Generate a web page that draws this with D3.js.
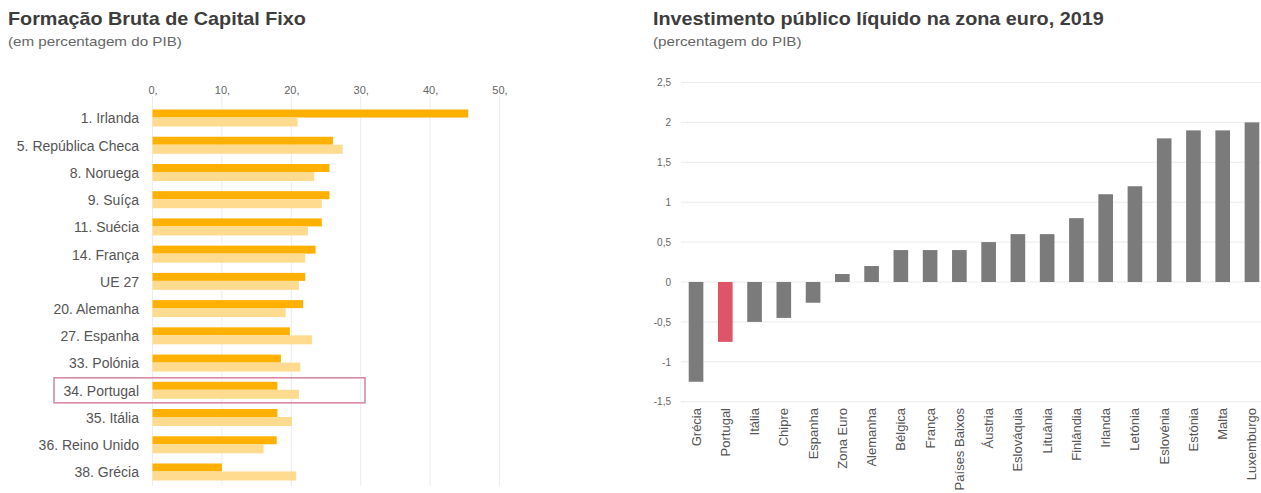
<!DOCTYPE html>
<html>
<head>
<meta charset="utf-8">
<script src="https://cdn.jsdelivr.net/npm/d3@7"></script>
<style>
  html, body { margin: 0; padding: 0; background: #fff; }
  svg { display: block; font-family: "Liberation Sans", Arial, sans-serif; }
</style>
</head>
<body>
<svg id="chart" width="1261" height="493"></svg>
<script>
// Formação Bruta de Capital Fixo (% do PIB)
const fbcfCountries = ["1. Irlanda", "5. República Checa", "8. Noruega", "9. Suíça", "11. Suécia",
  "14. França", "UE 27", "20. Alemanha", "27. Espanha", "33. Polónia", "34. Portugal",
  "35. Itália", "36. Reino Unido", "38. Grécia"];
const fbcfRecent = [45.5, 26.0, 25.5, 25.5, 24.4, 23.5, 22.0, 21.7, 19.8, 18.5, 18.0, 18.0, 17.9, 10.0];
const fbcfEarlier = [20.9, 27.4, 23.3, 24.4, 22.4, 22.0, 21.1, 19.2, 23.0, 21.3, 21.1, 20.1, 16.0, 20.7];
const fbcfTicks = [0, 10, 20, 30, 40, 50];
const fbcfHighlight = "34. Portugal";

// Investimento público líquido na zona euro, 2019 (% do PIB)
const ipCountries = ["Grécia", "Portugal", "Itália", "Chipre", "Espanha", "Zona Euro", "Alemanha",
  "Bélgica", "França", "Países Baixos", "Áustria", "Eslováquia", "Lituânia", "Finlândia",
  "Irlanda", "Letónia", "Eslovénia", "Estónia", "Malta", "Luxemburgo"];
const ipValues = [-1.25, -0.75, -0.5, -0.45, -0.26, 0.1, 0.2, 0.4, 0.4, 0.4, 0.5, 0.6, 0.6, 0.8,
  1.1, 1.2, 1.8, 1.9, 1.9, 2.0];
const ipTicks = [-1.5, -1, -0.5, 0, 0.5, 1, 1.5, 2, 2.5];
const ipHighlight = "Portugal";

const svg = d3.select("#chart");
const fmtComma = d => String(d).replace(".", ",");

// Title + subtitle block, slightly widened type
function heading(g, x, title, subtitle) {
  g.append("text")
    .attr("transform", `translate(${x},24.5) scale(1.1,1)`)
    .attr("font-size", 18).attr("font-weight", "bold").attr("fill", "#3d3d3d")
    .text(title);
  g.append("text")
    .attr("transform", `translate(${x},46) scale(1.17,1)`)
    .attr("font-size", 13).attr("fill", "#666")
    .text(subtitle);
}

// ---------- Left panel: horizontal paired bars ----------
const left = svg.append("g");
heading(left, 8, "Formação Bruta de Capital Fixo", "(em percentagem do PIB)");

const xL = d3.scaleLinear().domain([0, 50]).range([152.5, 499.5]);
const yL = d3.scaleBand().domain(fbcfCountries).range([104.9, 486.1]).padding(0);

// vertical gridlines
left.append("g").selectAll("line").data(fbcfTicks).join("line")
  .attr("x1", d => xL(d)).attr("x2", d => xL(d))
  .attr("y1", 96).attr("y2", 486)
  .attr("stroke", "#ececec").attr("stroke-width", 1);

// top axis labels
const axTop = left.append("g").attr("transform", "translate(0,94)")
  .call(d3.axisTop(xL).tickValues(fbcfTicks).tickSize(0).tickPadding(0).tickFormat(d => d + ","));
axTop.select(".domain").remove();
axTop.selectAll("text").attr("font-size", 11).attr("fill", "#666")
  .attr("font-family", "Liberation Sans, Arial, sans-serif");

// category labels
const axLeft = left.append("g").attr("transform", "translate(139,0)")
  .call(d3.axisLeft(yL).tickSize(0).tickPadding(0));
axLeft.select(".domain").remove();
axLeft.selectAll("text").attr("font-size", 14).attr("fill", "#555")
  .attr("font-family", "Liberation Sans, Arial, sans-serif").attr("dy", "0.35em");

const rows = left.append("g").selectAll("g").data(fbcfCountries).join("g");
rows.append("rect")
  .attr("x", xL(0)).attr("y", d => yL(d) + yL.bandwidth() / 2 - 9)
  .attr("width", (d, i) => xL(fbcfRecent[i]) - xL(0)).attr("height", 8)
  .attr("fill", "#ffb000");
rows.append("rect")
  .attr("x", xL(0)).attr("y", d => yL(d) + yL.bandwidth() / 2 - 1)
  .attr("width", (d, i) => xL(fbcfEarlier[i]) - xL(0)).attr("height", 9)
  .attr("fill", "#ffdb8f");

// highlight box around Portugal
left.append("rect")
  .attr("x", 54).attr("y", yL(fbcfHighlight) + yL.bandwidth() / 2 - 13)
  .attr("width", 311).attr("height", 25)
  .attr("fill", "none").attr("stroke", "#d88aa4").attr("stroke-width", 1.6);

// ---------- Right panel: vertical bars ----------
const right = svg.append("g");
heading(right, 653, "Investimento público líquido na zona euro, 2019", "(percentagem do PIB)");

const yR = d3.scaleLinear().domain([-1.5, 2.5]).range([401.7, 82.5]);
const xR = d3.scaleBand().domain(ipCountries).range([681.4, 1266.6])
  .paddingInner(0.5).paddingOuter(0.25);

right.append("g").selectAll("line").data(ipTicks).join("line")
  .attr("x1", 681).attr("x2", 1261)
  .attr("y1", d => yR(d)).attr("y2", d => yR(d))
  .attr("stroke", "#ebebeb").attr("stroke-width", 1);

const axR = right.append("g").attr("transform", "translate(671,0)")
  .call(d3.axisLeft(yR).tickValues(ipTicks).tickSize(0).tickPadding(0).tickFormat(fmtComma));
axR.select(".domain").remove();
axR.selectAll("text").attr("font-size", 10).attr("fill", "#666")
  .attr("font-family", "Liberation Sans, Arial, sans-serif");

right.append("g").selectAll("rect").data(ipCountries).join("rect")
  .attr("x", d => xR(d)).attr("width", xR.bandwidth())
  .attr("y", (d, i) => yR(Math.max(0, ipValues[i])))
  .attr("height", (d, i) => Math.abs(yR(ipValues[i]) - yR(0)))
  .attr("fill", d => d === ipHighlight ? "#e05468" : "#7b7b7b");

// rotated category labels
const axB = right.append("g").attr("transform", "translate(0,408)")
  .call(d3.axisBottom(xR).tickSize(0).tickPadding(0));
axB.select(".domain").remove();
axB.selectAll("text")
  .attr("font-size", 13).attr("fill", "#555")
  .attr("font-family", "Liberation Sans, Arial, sans-serif")
  .attr("text-anchor", "end").attr("dy", null).attr("y", 0).attr("x", 0)
  .attr("transform", "rotate(-90)")
  .attr("dominant-baseline", "central");
</script>
</body>
</html>
